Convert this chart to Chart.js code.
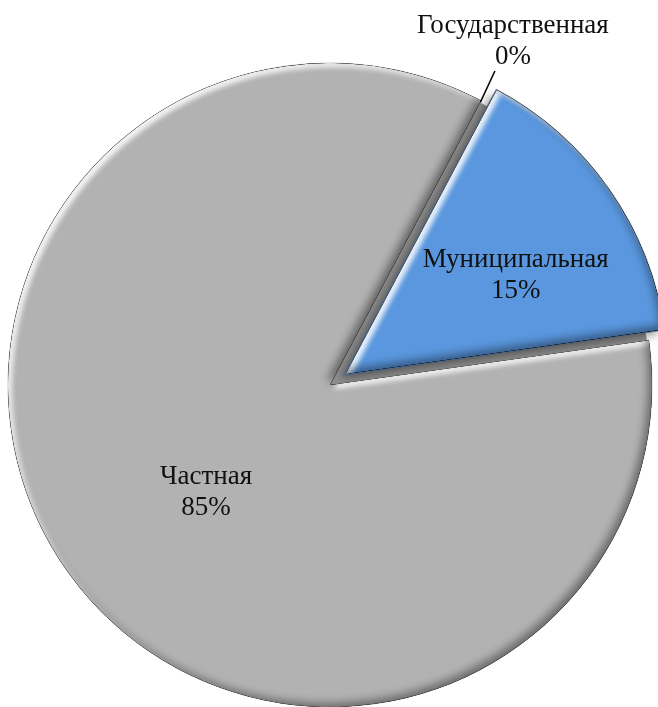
<!DOCTYPE html>
<html>
<head>
<meta charset="utf-8">
<script src="https://cdn.jsdelivr.net/npm/chart.js@4.4.0/dist/chart.umd.min.js"></script>
<style>
  html, body { margin: 0; padding: 0; background: #ffffff; overflow: hidden; }
  #wrap { width: 658px; height: 707px; position: relative; }
</style>
</head>
<body>
<div id="wrap"><canvas id="c" width="658" height="707"></canvas></div>
<script>
// ---- data ----
const categories = ['Государственная', 'Муниципальная', 'Частная'];
const shares = [0, 15, 85];
const valueLabels = ['0%', '15%', '85%'];

// ---- styles ----
const sliceColors = ['#4f81bd', '#5a97de', '#b2b2b2'];
const sliceOffsets = [0, 64, 0];
const labelRadius = [1.21, 0.61, 0.51];   // fraction of radius
const labelAngleShift = [0, 5, -6];        // degrees
const labelFont = '27px "Liberation Serif", "Times New Roman", serif';
const lineHeight = 31;

function arcGeom(arc) {
  const p = arc.getProps(['x', 'y', 'startAngle', 'endAngle', 'outerRadius', 'circumference']);
  const o = arc.options.offset || 0;
  const half = (p.startAngle + p.endAngle) / 2;
  const fix = 1 - Math.sin(Math.min(Math.PI, p.circumference || 0));
  const d = o / 4 * (1 + fix);
  return { cx: p.x + Math.cos(half) * d, cy: p.y + Math.sin(half) * d, r: p.outerRadius,
           s: p.startAngle, e: p.endAngle, half: half, circ: p.circumference, x0: p.x, y0: p.y };
}

const bevelPlugin = {
  id: 'bevel',
  beforeDatasetsDraw(chart) {
    // darker base under the pie so the gaps of the exploded slice look like the pie's side
    const ctx = chart.ctx;
    const meta = chart.getDatasetMeta(0);
    const a = meta.data[meta.data.length - 1];
    const p = a.getProps(['x', 'y', 'outerRadius']);
    ctx.save();
    ctx.beginPath();
    ctx.arc(p.x, p.y, p.outerRadius - 2, 0, Math.PI * 2);
    ctx.fillStyle = '#8e8e8e';
    ctx.fill();
    ctx.restore();
  },
  afterDatasetsDraw(chart) {
    const ctx = chart.ctx;
    const meta = chart.getDatasetMeta(0);
    meta.data.forEach((arc, i) => {
      const g = arcGeom(arc);
      if (!(g.circ > 0)) return;
      const path = () => { ctx.moveTo(g.cx, g.cy); ctx.arc(g.cx, g.cy, g.r, g.s, g.e); ctx.closePath(); };
      if ((arc.options.offset || 0) > 0) {
        ctx.save();
        ctx.beginPath(); ctx.rect(-2000, -2000, 5000, 5000); path(); ctx.clip('evenodd');
        ctx.beginPath(); path();
        ctx.shadowColor = 'rgba(0,0,0,0.4)'; ctx.shadowBlur = 10;
        ctx.shadowOffsetX = -6; ctx.shadowOffsetY = 5;
        ctx.fillStyle = '#000'; ctx.fill();
        ctx.restore();
      }
      const inner = (color, dx, dy, blur) => {
        ctx.save();
        ctx.beginPath(); path(); ctx.clip();
        ctx.beginPath(); ctx.rect(-2000, -2000, 5000, 5000); path();
        ctx.shadowColor = color; ctx.shadowBlur = blur;
        ctx.shadowOffsetX = dx; ctx.shadowOffsetY = dy;
        ctx.fillStyle = '#000'; ctx.fill('evenodd');
        ctx.restore();
      };
      inner('rgba(255,255,255,0.9)', 4, 4, 5);
      inner('rgba(0,0,0,0.4)', -4, -4, 8);
    });
  }
};

const labelPlugin = {
  id: 'pieLabels',
  afterDraw(chart) {
    const ctx = chart.ctx;
    const meta = chart.getDatasetMeta(0);
    ctx.save();
    ctx.font = labelFont;
    ctx.fillStyle = '#111';
    ctx.textAlign = 'center';
    ctx.textBaseline = 'middle';
    meta.data.forEach((arc, i) => {
      const g = arcGeom(arc);
      const ang = g.half + labelAngleShift[i] * Math.PI / 180;
      const rr = g.r * labelRadius[i];
      const lx = g.cx + Math.cos(ang) * rr;
      const ly = g.cy + Math.sin(ang) * rr;
      if (labelRadius[i] > 1) {
        ctx.save();
        ctx.strokeStyle = '#000';
        ctx.lineWidth = 1.5;
        ctx.beginPath();
        ctx.moveTo(g.cx + Math.cos(ang) * g.r * 0.995, g.cy + Math.sin(ang) * g.r * 0.995);
        ctx.lineTo(lx - 18, ly + 30);
        ctx.stroke();
        ctx.restore();
      }
      ctx.fillText(categories[i], lx, ly - lineHeight / 2);
      ctx.fillText(valueLabels[i], lx, ly + lineHeight / 2);
    });
    ctx.restore();
  }
};

new Chart(document.getElementById('c'), {
  type: 'pie',
  data: {
    labels: categories,
    datasets: [{
      data: shares,
      backgroundColor: sliceColors,
      borderColor: 'rgba(130,130,130,0.5)',
      borderWidth: 1,
      offset: sliceOffsets
    }]
  },
  options: {
    responsive: false,
    animation: false,
    rotation: 28,
    radius: 322,
    layout: { padding: { left: 2, right: 0, top: 63, bottom: 0 } },
    plugins: { legend: { display: false }, tooltip: { enabled: false } },
    events: []
  },
  plugins: [bevelPlugin, labelPlugin]
});
</script>
</body>
</html>
